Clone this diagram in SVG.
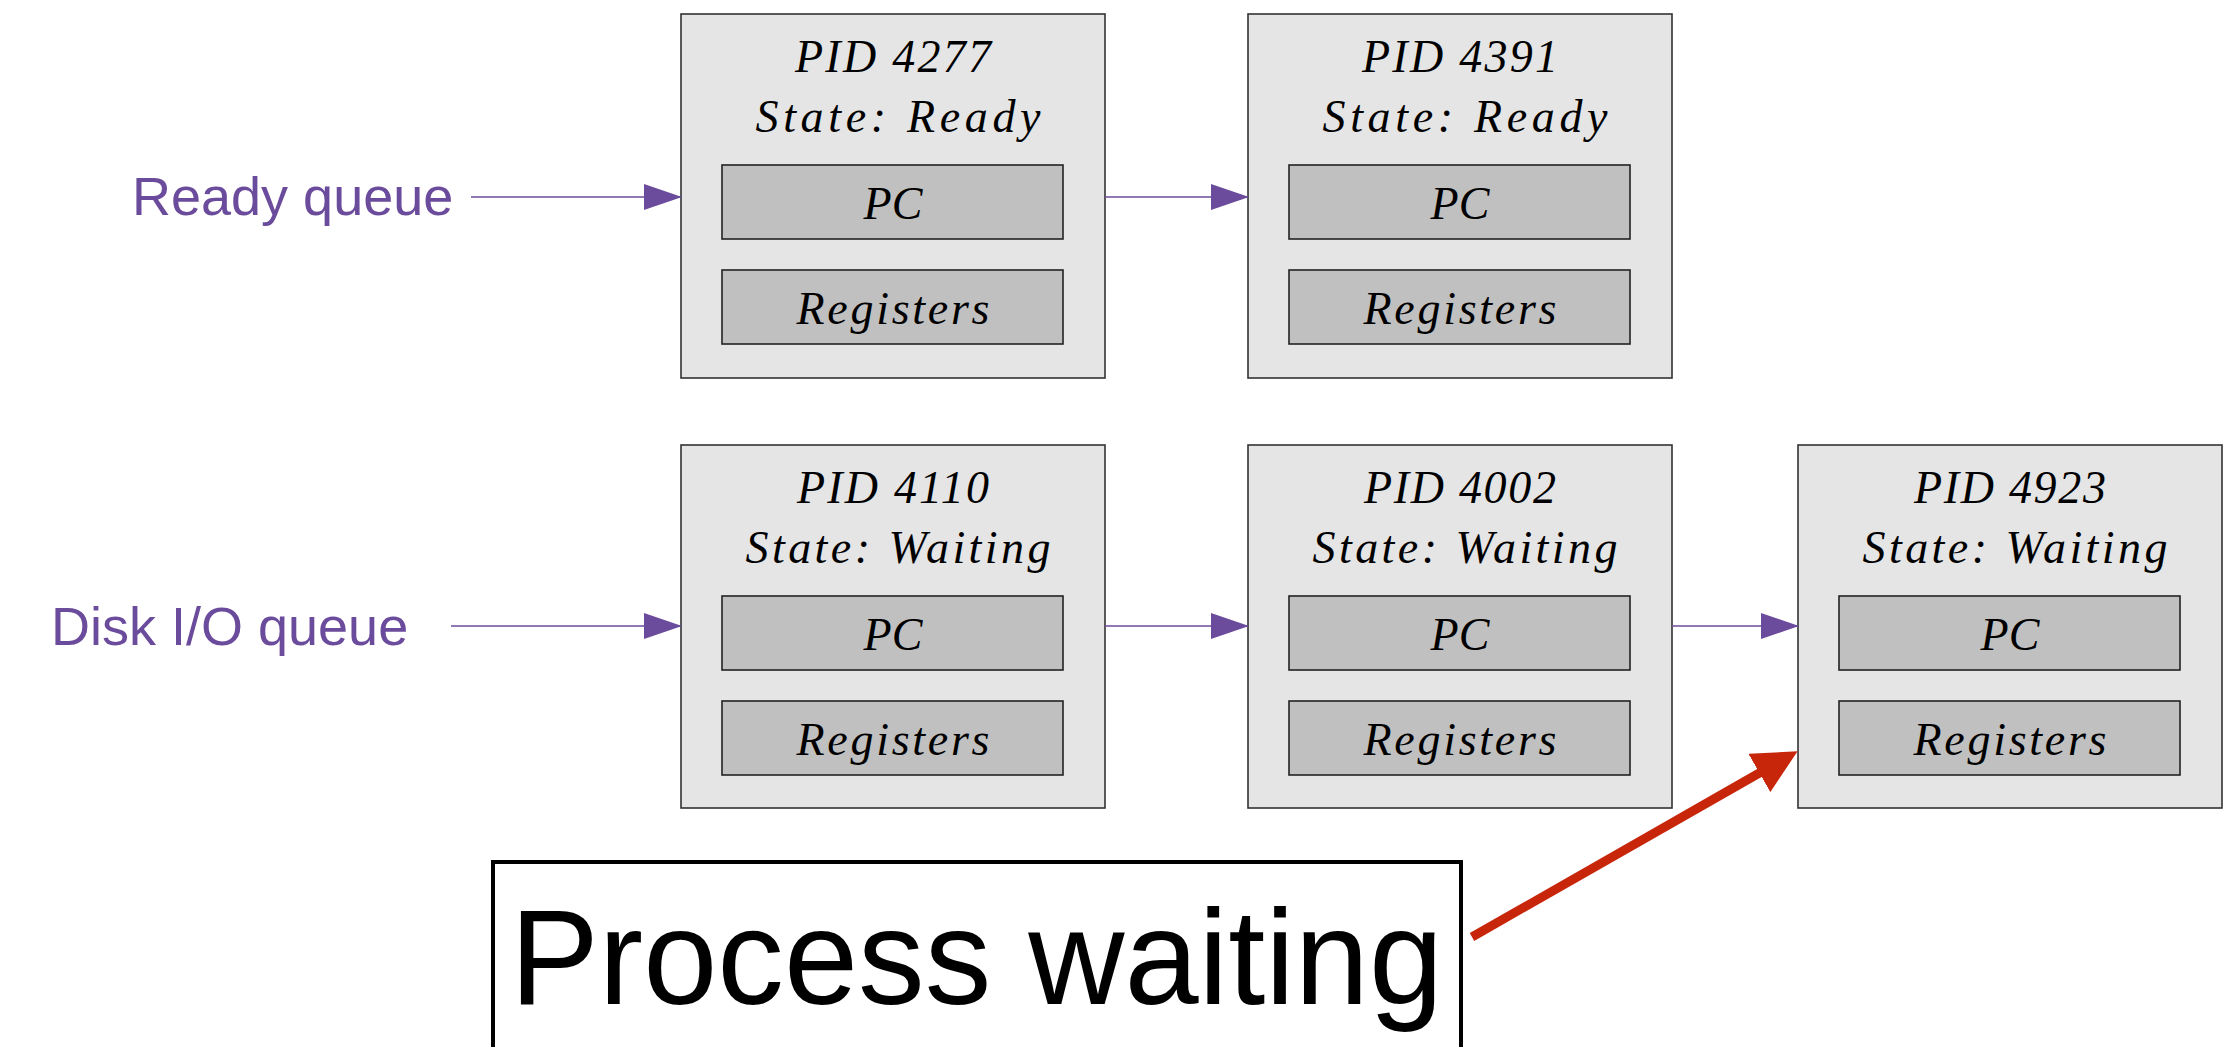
<svg xmlns="http://www.w3.org/2000/svg" width="2234" height="1047" viewBox="0 0 2234 1047">
<defs>
<style>
.node{fill:#e5e5e5;stroke:#333;stroke-width:1.6}
.field{fill:#c0c0c0;stroke:#222;stroke-width:1.6}
.cal{font-family:"Liberation Serif","DejaVu Serif",serif;font-style:italic;font-size:46px;fill:#000;text-anchor:middle}
.lbl{font-family:"Liberation Sans",Arial,sans-serif;font-size:54px;fill:#6b4b9b}
.conn{stroke:#6b4b9b;stroke-width:1.6;fill:none}
</style>
<marker id="ah" viewBox="0 0 38 26" markerWidth="38" markerHeight="26" refX="37" refY="13" orient="auto" markerUnits="userSpaceOnUse">
<path d="M0,0 L38,13 L0,26 Z" fill="#6b4b9b"/>
</marker>
<marker id="rh" viewBox="0 0 44 44" markerWidth="44" markerHeight="44" refX="3" refY="22" orient="auto" markerUnits="userSpaceOnUse">
<path d="M0,0 L44,22 L0,44 Z" fill="#c8260a"/>
</marker>
</defs>
<rect width="2234" height="1047" fill="#fff"/>

<text class="lbl" x="132" y="215">Ready queue</text>
<text class="lbl" x="51" y="645">Disk I/O queue</text>

<g id="pid4277">
<rect class="node" x="681" y="14" width="424" height="364"/>
<text class="cal" x="893" y="72" textLength="196" lengthAdjust="spacing">PID 4277</text>
<text class="cal" x="898" y="132" textLength="285" lengthAdjust="spacing">State: Ready</text>
<rect class="field" x="722" y="165" width="341" height="74"/>
<text class="cal" x="893" y="219">PC</text>
<rect class="field" x="722" y="270" width="341" height="74"/>
<text class="cal" x="893" y="324" textLength="193" lengthAdjust="spacing">Registers</text>
</g>

<g id="pid4391">
<rect class="node" x="1248" y="14" width="424" height="364"/>
<text class="cal" x="1460" y="72" textLength="196" lengthAdjust="spacing">PID 4391</text>
<text class="cal" x="1465" y="132" textLength="285" lengthAdjust="spacing">State: Ready</text>
<rect class="field" x="1289" y="165" width="341" height="74"/>
<text class="cal" x="1460" y="219">PC</text>
<rect class="field" x="1289" y="270" width="341" height="74"/>
<text class="cal" x="1460" y="324" textLength="193" lengthAdjust="spacing">Registers</text>
</g>

<g id="pid4110">
<rect class="node" x="681" y="445" width="424" height="363"/>
<text class="cal" x="893" y="503" textLength="192" lengthAdjust="spacing">PID 4110</text>
<text class="cal" x="898" y="563" textLength="305" lengthAdjust="spacing">State: Waiting</text>
<rect class="field" x="722" y="596" width="341" height="74"/>
<text class="cal" x="893" y="650">PC</text>
<rect class="field" x="722" y="701" width="341" height="74"/>
<text class="cal" x="893" y="755" textLength="193" lengthAdjust="spacing">Registers</text>
</g>

<g id="pid4002">
<rect class="node" x="1248" y="445" width="424" height="363"/>
<text class="cal" x="1460" y="503" textLength="192" lengthAdjust="spacing">PID 4002</text>
<text class="cal" x="1465" y="563" textLength="305" lengthAdjust="spacing">State: Waiting</text>
<rect class="field" x="1289" y="596" width="341" height="74"/>
<text class="cal" x="1460" y="650">PC</text>
<rect class="field" x="1289" y="701" width="341" height="74"/>
<text class="cal" x="1460" y="755" textLength="193" lengthAdjust="spacing">Registers</text>
</g>

<g id="pid4923">
<rect class="node" x="1798" y="445" width="424" height="363"/>
<text class="cal" x="2010" y="503" textLength="192" lengthAdjust="spacing">PID 4923</text>
<text class="cal" x="2015" y="563" textLength="305" lengthAdjust="spacing">State: Waiting</text>
<rect class="field" x="1839" y="596" width="341" height="74"/>
<text class="cal" x="2010" y="650">PC</text>
<rect class="field" x="1839" y="701" width="341" height="74"/>
<text class="cal" x="2010" y="755" textLength="193" lengthAdjust="spacing">Registers</text>
</g>

<g id="process-waiting">
<rect x="493" y="862" width="968" height="220" fill="none" stroke="#000" stroke-width="4"/>
<text x="510" y="1004" font-family="'Liberation Sans',Arial,sans-serif" font-size="136" fill="#000" textLength="933" lengthAdjust="spacingAndGlyphs">Process waiting</text>
</g>

<g id="connectors">
<line class="conn" x1="471" y1="197" x2="681" y2="197" marker-end="url(#ah)"/>
<line class="conn" x1="1105" y1="197" x2="1248" y2="197" marker-end="url(#ah)"/>
<line class="conn" x1="451" y1="626" x2="681" y2="626" marker-end="url(#ah)"/>
<line class="conn" x1="1105" y1="626" x2="1248" y2="626" marker-end="url(#ah)"/>
<line class="conn" x1="1672" y1="626" x2="1798" y2="626" marker-end="url(#ah)"/>
<line x1="1472" y1="937" x2="1762" y2="771.5" stroke="#c8260a" stroke-width="9" marker-end="url(#rh)"/>
</g>
</svg>
